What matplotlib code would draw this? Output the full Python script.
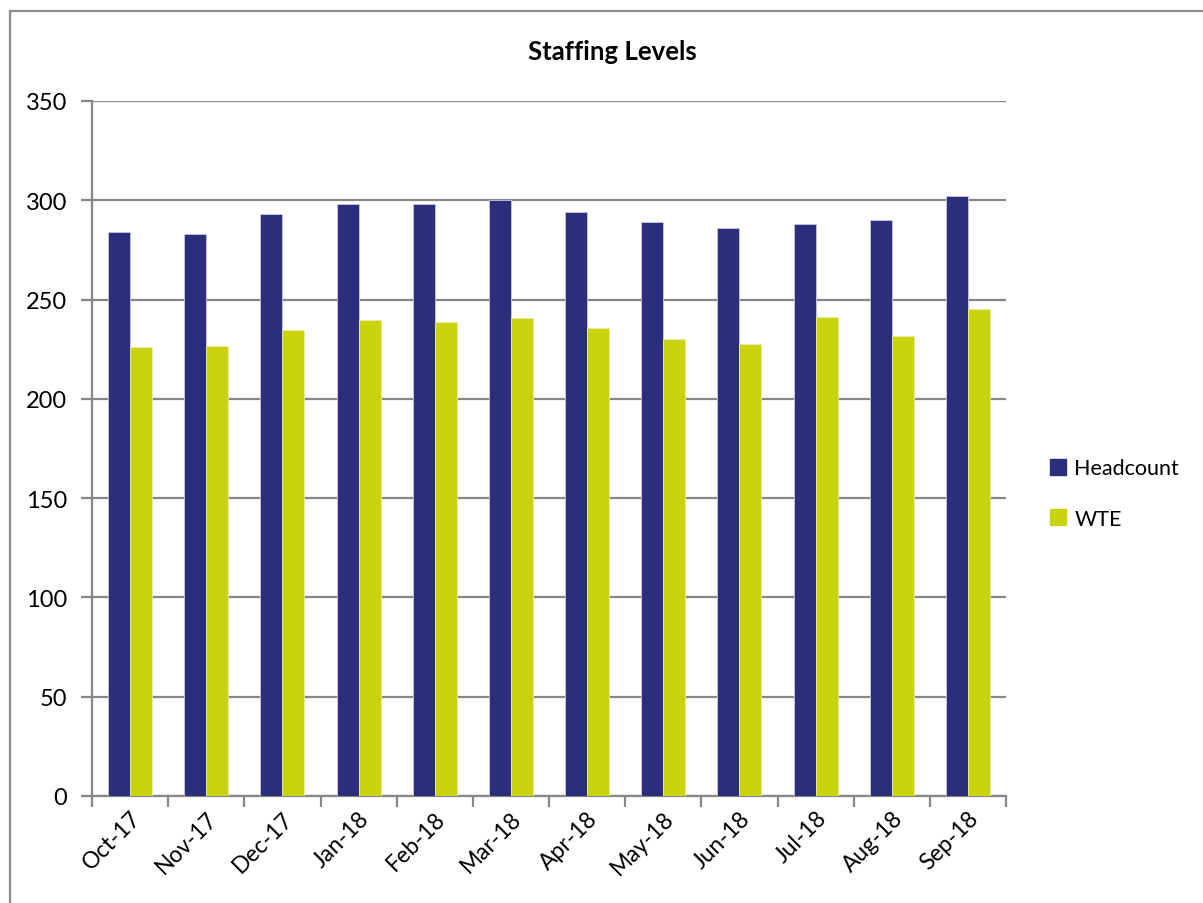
import matplotlib
matplotlib.use("Agg")
import matplotlib.pyplot as plt
import matplotlib.transforms as mtransforms
import numpy as np
from matplotlib.patches import Rectangle
from matplotlib.lines import Line2D

months = ["Oct-17", "Nov-17", "Dec-17", "Jan-18", "Feb-18", "Mar-18",
          "Apr-18", "May-18", "Jun-18", "Jul-18", "Aug-18", "Sep-18"]
headcount = [284, 283, 293, 298, 298, 300, 294, 289, 286, 288, 290, 302]
wte = [226.0, 226.6, 234.8, 239.9, 238.9, 240.8, 235.5, 230.2, 227.6, 241.4, 231.7, 245.3]
y_ticks = [0, 50, 100, 150, 200, 250, 300, 350]

navy = "#2B2E7B"
lime = "#C9D30F"
grid_c = "#878787"

plt.rcParams["font.family"] = ["Lato", "DejaVu Sans"]

W, H = 1203, 904
fig = plt.figure(figsize=(W / 100, H / 100), dpi=100)
ax = fig.add_axes([92 / W, 1 - 797 / H, (1006 - 92) / W, (797 - 102) / H])

x = np.arange(len(months))
bw = 0.288
ax.bar(x - bw / 2, headcount, bw, color=navy, edgecolor="#C8C9E0", linewidth=0.6, label="Headcount", zorder=3)
ax.bar(x + bw / 2, wte, bw, color=lime, edgecolor="#E8EDA0", linewidth=0.6, label="WTE", zorder=3)

ax.set_xlim(-0.5, len(months) - 0.5)
ax.set_ylim(0, 350)
ax.set_yticks(y_ticks)
ax.set_yticklabels([str(v) for v in y_ticks], fontsize=17)
ax.yaxis.grid(True, color=grid_c, linewidth=1.6, zorder=0)
ax.set_axisbelow(True)

ax.set_xticks(np.arange(len(months) + 1) - 0.5, minor=False)
ax.set_xticklabels([""] * (len(months) + 1))
ax.set_xticks(x, minor=True)
ax.set_xticklabels(months, minor=True, rotation=45, ha="right", va="top",
                   rotation_mode="anchor", fontsize=16.5)
shift = mtransforms.ScaledTranslation(12 / 100, 0, fig.dpi_scale_trans)
for lbl in ax.xaxis.get_minorticklabels():
    lbl.set_transform(lbl.get_transform() + shift)
ax.tick_params(axis="x", which="major", length=8, width=1.6, color=grid_c, direction="out")
ax.tick_params(axis="x", which="minor", length=0, pad=8)
ax.tick_params(axis="y", length=8, width=1.6, color=grid_c, direction="out", pad=10)

for s in ["top", "right"]:
    ax.spines[s].set_visible(False)
for s in ["left", "bottom"]:
    ax.spines[s].set_color(grid_c)
    ax.spines[s].set_linewidth(1.6)

fig.text(612 / W, 1 - 52 / H, "Staffing Levels", ha="center", va="center",
         fontsize=18.5, fontweight="bold")

handles = [Line2D([0], [0], marker="s", linestyle="none", markersize=11,
                  markerfacecolor=navy, markeredgecolor=navy),
           Line2D([0], [0], marker="s", linestyle="none", markersize=11,
                  markerfacecolor=lime, markeredgecolor=lime)]
fig.legend(handles, ["Headcount", "WTE"], loc="upper left",
           bbox_to_anchor=(1026 / W, 1 - 440 / H), frameon=False,
           fontsize=15.5, handletextpad=0.15, labelspacing=1.4, handlelength=1.2)

# chart frame
fig.patches.append(Rectangle((10 / W, -0.1), 1.2, 1 - 12 / H + 0.1,
                             transform=fig.transFigure, fill=False,
                             edgecolor="#8C8C8C", linewidth=1.6))

fig.savefig("out.png", dpi=100)
